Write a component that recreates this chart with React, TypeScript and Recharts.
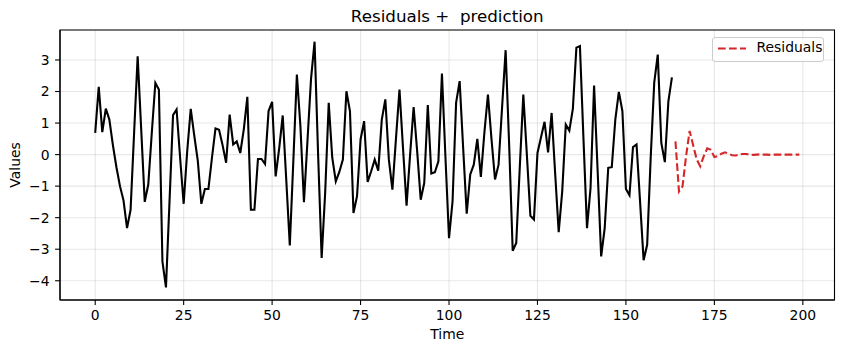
import React from 'react';
import { LineChart, Line, XAxis, YAxis, CartesianGrid, ReferenceArea } from 'recharts';

// observed residuals, t = 0..163
const observed = [
    0.69, 2.15, 0.71, 1.46, 1.11, 0.3, -0.4, -1.0, -1.45, -2.33,
    -1.75, 0.7, 3.12, 0.8, -1.5, -0.95, 0.7, 2.27, 2.06, -3.39,
    -4.21, -1.5, 1.25, 1.43, -0.1, -1.56, 0.1, 1.45, 0.6, -0.2,
    -1.56, -1.09, -1.09, -0.1, 0.83, 0.79, 0.3, -0.26, 1.27, 0.32,
    0.42, 0.05, 0.8, 1.83, -1.75, -1.75, -0.14, -0.14, -0.3, 1.38,
    1.67, -0.69, 0.2, 1.24, -0.8, -2.88, -0.2, 2.54, 0.9, -1.51,
    0.45, 2.4, 3.58, 0.0, -3.28, -1.2, 1.64, -0.1, -0.85, -0.55,
    -0.16, 2.01, 1.38, -1.85, -1.32, 0.48, 1.06, -0.87, -0.53, -0.16,
    -0.51, 1.11, 1.75, -0.16, -1.11, 0.5, 2.06, 0.2, -1.62, 0.0,
    1.51, 0.1, -1.43, -0.9, 1.57, -0.6, -0.56, -0.21, 2.57, -0.1,
    -2.65, -1.48, 1.64, 2.33, 0.2, -1.87, -0.63, -0.32, 0.5, -0.71,
    0.7, 1.9, 0.5, -0.79, -0.32, 1.5, 3.31, 0.3, -3.05, -2.8,
    -0.4, 1.9, 0.0, -1.94, -2.06, 0.05, 0.55, 1.04, 0.07, 1.32,
    -0.6, -2.46, -1.16, 0.95, 0.76, 1.45, 3.39, 3.44, 0.5, -2.33,
    -1.06, 2.19, -0.5, -3.23, -2.33, -0.42, -0.4, 1.11, 1.99, 1.38,
    -1.09, -1.29, 0.24, 0.32, -1.5, -3.35, -2.86, -0.1, 2.28, 3.17,
    0.37, -0.24, 1.69, 2.45,
];

// predicted residuals, t = 164..199
const predicted = [
    0.42, -1.17, -1.01, -0.05, 0.75, 0.3, -0.15, -0.37, -0.05, 0.2,
    0.15, -0.08, -0.05, 0.03, 0.07, 0.03, -0.02, -0.03, 0.0, 0.02,
    0.02, 0.0, -0.01, 0.0, 0.01, 0.0, 0.0, -0.01, 0.0, 0.0,
    0.0, 0.0, 0.0, 0.0, 0.0, 0.0,
];

const xTicks = [0, 25, 50, 75, 100, 125, 150, 175, 200];
const yTicks = [-4, -3, -2, -1, 0, 1, 2, 3];

const X_DOMAIN: [number, number] = [-9.95, 208.95];
const Y_DOMAIN: [number, number] = [-4.61, 3.95];

const data = [
    ...observed.map((v, i) => ({ time: i, observed: v, predicted: null as number | null })),
    ...predicted.map((v, i) => ({ time: observed.length + i, observed: null as number | null, predicted: v })),
];

const font = 'DejaVu Sans, Liberation Sans, sans-serif';
const tickStyle = { fill: '#000', fontSize: 13.9, fontFamily: font };
const fmt = (v: number) => (v < 0 ? '\u2212' + Math.abs(v) : String(v));

export default function App() {
    return (
        <div style={{ position: 'absolute', left: 0, top: 0, width: 844, height: 353, background: '#fff' }}>
            <LineChart width={844} height={353} data={data} margin={{ top: 30, right: 9.5, bottom: 0, left: 0 }}>
                <CartesianGrid stroke="#b0b0b0" strokeOpacity={0.3} strokeWidth={1.1} />
                <XAxis
                    dataKey="time"
                    type="number"
                    domain={X_DOMAIN}
                    ticks={xTicks}
                    allowDataOverflow
                    height={53}
                    tickSize={4.9}
                    tickMargin={5.2}
                    tick={tickStyle}
                    tickLine={{ stroke: '#000', strokeWidth: 1.1 }}
                    axisLine={{ stroke: '#000', strokeWidth: 1.1 }}
                />
                <YAxis
                    type="number"
                    domain={Y_DOMAIN}
                    ticks={yTicks}
                    allowDataOverflow
                    width={60}
                    tickSize={4.9}
                    tickMargin={5.5}
                    tick={tickStyle}
                    tickFormatter={fmt}
                    tickLine={{ stroke: '#000', strokeWidth: 1.1 }}
                    axisLine={{ stroke: '#000', strokeWidth: 1.1 }}
                />
                <Line
                    dataKey="observed"
                    stroke="#000"
                    strokeWidth={2.1}
                    dot={false}
                    activeDot={false}
                    isAnimationActive={false}
                />
                <Line
                    dataKey="predicted"
                    stroke="#d62728"
                    strokeWidth={2.1}
                    strokeDasharray="7.7 3.3"
                    dot={false}
                    activeDot={false}
                    isAnimationActive={false}
                />
                <ReferenceArea
                    x1={X_DOMAIN[0]}
                    x2={X_DOMAIN[1]}
                    y1={Y_DOMAIN[0]}
                    y2={Y_DOMAIN[1]}
                    fill="none"
                    stroke="#000"
                    strokeWidth={1.1}
                />
            </LineChart>

            <div style={{ position: 'absolute', left: 0, width: 894.5 - 0, top: 7.9, fontFamily: font, fontSize: 16.7, lineHeight: '16.7px', textAlign: 'center', whiteSpace: 'pre' }}>
                Residuals +  prediction
            </div>
            <div style={{ position: 'absolute', left: 60, width: 774.5, top: 327.5, fontFamily: font, fontSize: 13.9, lineHeight: '13.9px', textAlign: 'center' }}>
                Time
            </div>
            <div style={{ position: 'absolute', left: 16.2 - 50, top: 165 - 6.95, width: 100, fontFamily: font, fontSize: 13.9, lineHeight: '13.9px', textAlign: 'center', transform: 'rotate(-90deg)' }}>
                Values
            </div>

            {/* legend */}
            <div style={{ position: 'absolute', left: 712, top: 37, width: 112, height: 25, boxSizing: 'border-box', border: '1px solid #cccccc', borderRadius: 3, background: 'rgba(255,255,255,0.8)' }}>
                <svg width={40} height={23} style={{ position: 'absolute', left: 0, top: 0 }}>
                    <line x1={5} y1={10.5} x2={33} y2={10.5} stroke="#d62728" strokeWidth={2.1} strokeDasharray="7.7 3.3" />
                </svg>
                <div style={{ position: 'absolute', left: 43.5, top: 3.3, fontFamily: font, fontSize: 13.9, lineHeight: '13.9px', whiteSpace: 'nowrap' }}>
                    Residuals
                </div>
            </div>
        </div>
    );
}
